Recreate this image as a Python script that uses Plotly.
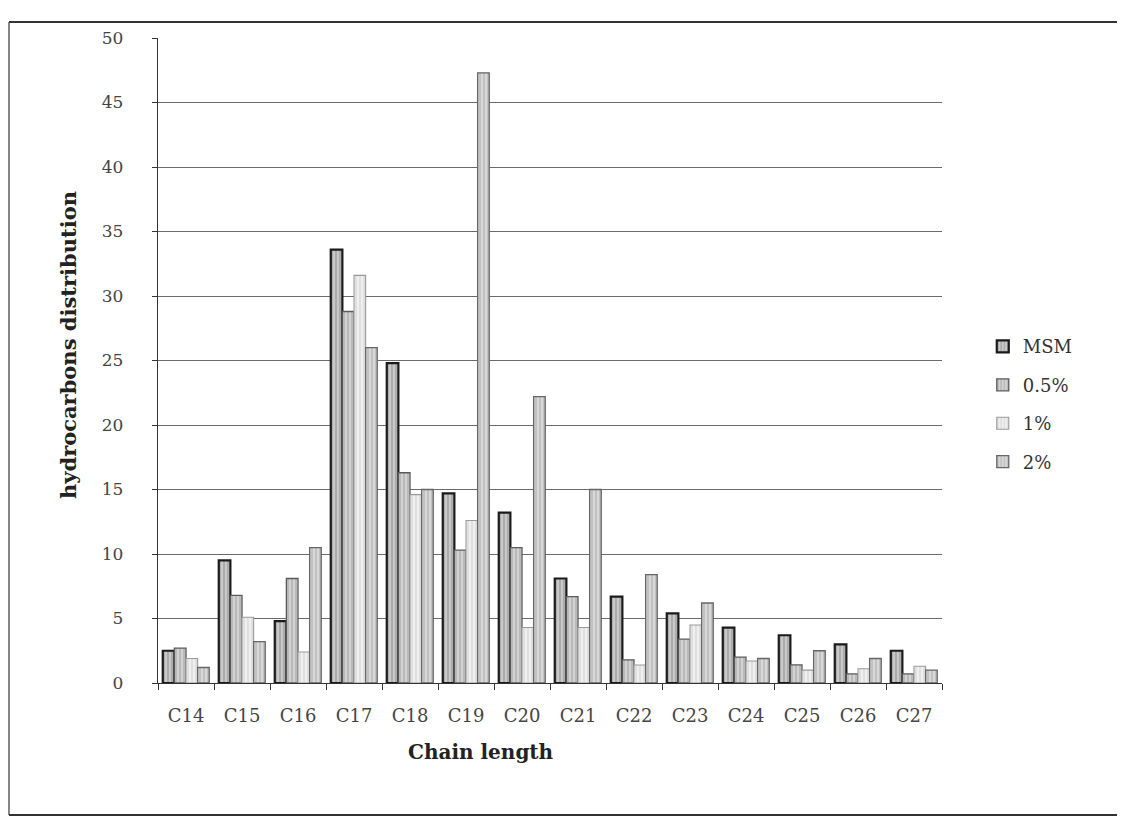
import plotly.graph_objects as go

categories = ["C14", "C15", "C16", "C17", "C18", "C19", "C20", "C21", "C22", "C23", "C24", "C25", "C26", "C27"]
msm = [2.5, 9.5, 4.8, 33.6, 24.8, 14.7, 13.2, 8.1, 6.7, 5.4, 4.3, 3.7, 3.0, 2.5]
p05 = [2.7, 6.8, 8.1, 28.8, 16.3, 10.3, 10.5, 6.7, 1.8, 3.4, 2.0, 1.4, 0.7, 0.7]
p1 = [1.9, 5.1, 2.4, 31.6, 14.6, 12.6, 4.3, 4.3, 1.4, 4.5, 1.7, 1.0, 1.1, 1.3]
p2 = [1.2, 3.2, 10.5, 26.0, 15.0, 47.3, 22.2, 15.0, 8.4, 6.2, 1.9, 2.5, 1.9, 1.0]
series_names = ["MSM", "0.5%", "1%", "2%"]
yticks = [0, 5, 10, 15, 20, 25, 30, 35, 40, 45, 50]

styles = [
    dict(line="#1a1a1a", lw=2.2, bg="#c8c8c8", fg="#777777"),
    dict(line="#5a5a5a", lw=1.3, bg="#d2d2d2", fg="#8c8c8c"),
    dict(line="#9a9a9a", lw=1.1, bg="#efefef", fg="#c0c0c0"),
    dict(line="#666666", lw=1.3, bg="#d8d8d8", fg="#969696"),
]

FONT = "DejaVu Serif"
fig = go.Figure()
for name, vals, st in zip(series_names, [msm, p05, p1, p2], styles):
    fig.add_trace(go.Bar(
        x=categories, y=vals, name=name, legendgroup=name,
        marker=dict(
            color=st["bg"],
            line=dict(color=st["line"], width=st["lw"]),
            pattern=dict(shape="|", fgcolor=st["fg"], bgcolor=st["bg"], size=4, solidity=0.35),
        ),
    ))

# page has an 8px body margin: figure is drawn 8px right/down of the window origin
W, H = 1117, 811
fig.update_layout(
    width=W, height=H,
    paper_bgcolor="white", plot_bgcolor="white",
    margin=dict(l=150, r=183, t=30, b=136),
    barmode="group", bargap=0.17, bargroupgap=0.0,
    font=dict(family=FONT, color="#333333", size=17),
    showlegend=True,
    legend=dict(x=1.052, y=0.55, xanchor="left", yanchor="top",
                font=dict(family=FONT, size=18, color="#333333"),
                tracegroupgap=12, bgcolor="rgba(0,0,0,0)"),
    yaxis=dict(range=[0, 50], tickvals=yticks, ticktext=[str(v) for v in yticks],
               showgrid=True, gridcolor="#6a6a6a", gridwidth=1.3,
               showline=True, linecolor="#333333", linewidth=1.3,
               ticks="outside", ticklen=5, tickcolor="#333333",
               ticklabelstandoff=25,
               tickfont=dict(family=FONT, size=17, color="#444444"),
               zeroline=False),
    xaxis=dict(showline=True, linecolor="#333333", linewidth=1.3,
               ticks="outside", ticklen=6, tickcolor="#333333", tickson="boundaries",
               ticklabelstandoff=16,
               tickfont=dict(family=FONT, size=18, color="#444444")),
)

def px_x(p):
    return (p - 158) / 784

def px_y(p):
    return (683 - p) / 645

fig.add_annotation(text="<b>Chain length</b>", xref="paper", yref="paper",
                   x=px_x(481), y=px_y(752), xanchor="center", yanchor="middle", showarrow=False,
                   font=dict(family=FONT, size=20, color="#222222"))
fig.add_annotation(text="<b>hydrocarbons distribution</b>", xref="paper", yref="paper",
                   x=px_x(68), y=px_y(345), xanchor="center", yanchor="middle", textangle=-90,
                   showarrow=False, font=dict(family=FONT, size=21, color="#222222"))

frame = dict(color="#333333", width=2)
fig.add_shape(type="line", xref="paper", yref="paper", x0=px_x(9), x1=px_x(1125), y0=px_y(22), y1=px_y(22), line=frame)
fig.add_shape(type="line", xref="paper", yref="paper", x0=px_x(9), x1=px_x(9), y0=px_y(22), y1=px_y(815), line=dict(color="#444444", width=1.3))
fig.add_shape(type="line", xref="paper", yref="paper", x0=px_x(9), x1=px_x(1125), y0=px_y(815), y1=px_y(815), line=frame)

fig.write_html("out.html")
